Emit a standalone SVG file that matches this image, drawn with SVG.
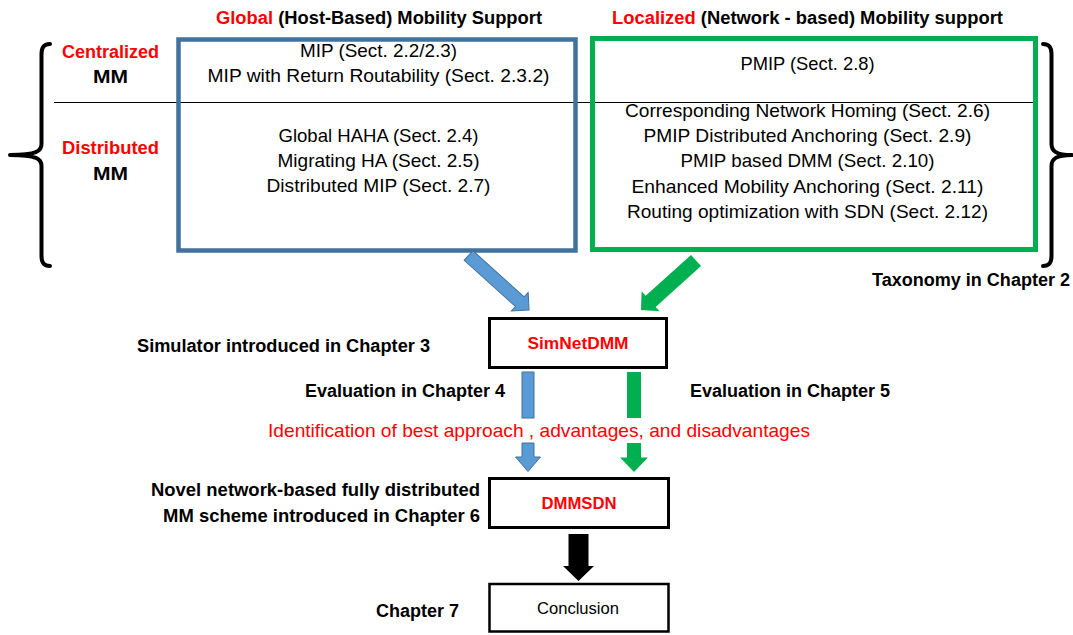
<svg xmlns="http://www.w3.org/2000/svg" width="1073" height="635" viewBox="0 0 1073 635">
  <style>
    text { font-family: "Liberation Sans", Arial, sans-serif; fill: #000; }
    .b { font-weight: bold; }
    .red { fill: #FF0000; }
    .h { font-size: 18px; }
    .item { font-size: 18.5px; text-anchor: middle; }
    .lbl { font-size: 17.5px; font-weight: bold; }
    .node { font-size: 16px; font-weight: bold; fill: #FF0000; text-anchor: middle; }
    .brace { fill: none; stroke: #000; stroke-width: 4; stroke-linecap: round; stroke-linejoin: round; }
    .box { fill: none; stroke: #000; stroke-width: 3; }
    .blue-arrow { fill: #5B9BD5; stroke: #41719C; stroke-width: 1; }
    .green-arrow { fill: #00B050; }
    .black-arrow { fill: #000; }
  </style>

  <rect width="1073" height="635" fill="#fff"/>

  <!-- divider between centralized and distributed rows -->
  <line id="row-divider" x1="54" y1="102.5" x2="1033" y2="102.5" stroke="#000" stroke-width="1"/>

  <!-- column headers -->
  <g id="header-global">
    <text class="h b" x="216" y="24" textLength="326" lengthAdjust="spacingAndGlyphs"><tspan class="red">Global</tspan> (Host-Based) Mobility Support</text>
  </g>
  <g id="header-localized">
    <text class="h b" x="612" y="24" textLength="391" lengthAdjust="spacingAndGlyphs"><tspan class="red">Localized</tspan> (Network - based) Mobility support</text>
  </g>

  <!-- row labels -->
  <g id="row-centralized">
    <text class="h b red" x="110.5" y="58" text-anchor="middle" textLength="97" lengthAdjust="spacingAndGlyphs">Centralized</text>
    <text class="h b" x="110.5" y="83" text-anchor="middle" textLength="35" lengthAdjust="spacingAndGlyphs">MM</text>
  </g>
  <g id="row-distributed">
    <text class="h b red" x="110.5" y="154" text-anchor="middle" textLength="97" lengthAdjust="spacingAndGlyphs">Distributed</text>
    <text class="h b" x="110.5" y="180" text-anchor="middle" textLength="35" lengthAdjust="spacingAndGlyphs">MM</text>
  </g>

  <!-- braces -->
  <g id="brace-left">
    <path class="brace" d="M50,44 C44,44 41.5,47 41.5,54 L41.5,144 C41.5,151 37,155 10,155 C37,155 41.5,159 41.5,166 L41.5,256 C41.5,263 44,266 50,266"/>
  </g>
  <g id="brace-right">
    <path class="brace" d="M1043,44 C1049,44 1051.5,47 1051.5,54 L1051.5,144 C1051.5,151 1056,155 1072,155 C1056,155 1051.5,159 1051.5,166 L1051.5,256 C1051.5,263 1049,266 1043,266"/>
  </g>

  <!-- host-based approaches -->
  <g id="global-box">
    <rect x="178.5" y="39.5" width="397" height="211" fill="none" stroke="#41719C" stroke-width="4.5"/>
    <text class="item" x="378.5" y="57" textLength="157" lengthAdjust="spacingAndGlyphs">MIP (Sect. 2.2/2.3)</text>
    <text class="item" x="378.5" y="82" textLength="342" lengthAdjust="spacingAndGlyphs">MIP with Return Routability (Sect. 2.3.2)</text>
    <text class="item" x="378.5" y="142" textLength="200" lengthAdjust="spacingAndGlyphs">Global HAHA (Sect. 2.4)</text>
    <text class="item" x="378.5" y="167" textLength="202" lengthAdjust="spacingAndGlyphs">Migrating HA (Sect. 2.5)</text>
    <text class="item" x="378.5" y="192" textLength="224" lengthAdjust="spacingAndGlyphs">Distributed MIP (Sect. 2.7)</text>
  </g>

  <!-- network-based approaches -->
  <g id="localized-box">
    <rect x="592.5" y="38.5" width="443" height="211" fill="none" stroke="#00B050" stroke-width="5"/>
    <text class="item" x="807.5" y="70" textLength="134" lengthAdjust="spacingAndGlyphs">PMIP (Sect. 2.8)</text>
    <text class="item" x="807.5" y="117" textLength="365" lengthAdjust="spacingAndGlyphs">Corresponding Network Homing (Sect. 2.6)</text>
    <text class="item" x="807.5" y="142" textLength="328" lengthAdjust="spacingAndGlyphs">PMIP Distributed Anchoring (Sect. 2.9)</text>
    <text class="item" x="807.5" y="167" textLength="254" lengthAdjust="spacingAndGlyphs">PMIP based DMM (Sect. 2.10)</text>
    <text class="item" x="807.5" y="193" textLength="352" lengthAdjust="spacingAndGlyphs">Enhanced Mobility Anchoring (Sect. 2.11)</text>
    <text class="item" x="807.5" y="218" textLength="361" lengthAdjust="spacingAndGlyphs">Routing optimization with SDN (Sect. 2.12)</text>
  </g>

  <g id="taxonomy-label">
    <text class="h b" x="872" y="286" textLength="198" lengthAdjust="spacingAndGlyphs">Taxonomy in Chapter 2</text>
  </g>

  <!-- simulator -->
  <g id="simnetdmm">
    <rect class="box" x="489.5" y="318.5" width="177" height="49"/>
    <text class="node" x="578" y="349" textLength="101" lengthAdjust="spacingAndGlyphs">SimNetDMM</text>
    <text class="lbl" x="137" y="352" textLength="293" lengthAdjust="spacingAndGlyphs">Simulator introduced in Chapter 3</text>
  </g>

  <g id="evaluation-labels">
    <text class="lbl" x="305" y="397" textLength="200" lengthAdjust="spacingAndGlyphs">Evaluation in Chapter 4</text>
    <text class="lbl" x="690" y="397" textLength="200" lengthAdjust="spacingAndGlyphs">Evaluation in Chapter 5</text>
    <text class="red" x="268" y="437" font-size="18.5" textLength="542" lengthAdjust="spacingAndGlyphs">Identification of best approach , advantages, and disadvantages</text>
  </g>

  <!-- proposed scheme -->
  <g id="dmmsdn">
    <rect class="box" x="489.5" y="478.5" width="179" height="49"/>
    <text class="node" x="579" y="509" textLength="75" lengthAdjust="spacingAndGlyphs">DMMSDN</text>
    <text class="lbl" x="480" y="496" text-anchor="end" textLength="329" lengthAdjust="spacingAndGlyphs">Novel network-based fully distributed</text>
    <text class="lbl" x="480" y="522" text-anchor="end" textLength="317" lengthAdjust="spacingAndGlyphs">MM scheme introduced in Chapter 6</text>
  </g>

  <g id="conclusion">
    <rect x="489.5" y="584" width="179" height="47.5" fill="none" stroke="#000" stroke-width="2.5"/>
    <text x="578" y="614" font-size="16.5" text-anchor="middle" textLength="82" lengthAdjust="spacingAndGlyphs">Conclusion</text>
    <text class="lbl" x="376" y="617" textLength="83" lengthAdjust="spacingAndGlyphs">Chapter 7</text>
  </g>

  <!-- block arrows -->
  <g id="connectors">
    <!-- diagonal arrows into the simulator -->
    <polygon class="blue-arrow" transform="translate(468.5,255.5) rotate(42)" points="0,-6.5 69,-6.5 69,-12.5 81.5,0 69,12.5 69,6.5 0,6.5"/>
    <polygon class="green-arrow" transform="translate(696,260.5) rotate(138)" points="0,-7.5 61,-7.5 61,-13.5 74,0 61,13.5 61,7.5 0,7.5"/>
    <!-- evaluation arrows, interrupted by the label -->
    <rect class="blue-arrow" x="522" y="372" width="12" height="46"/>
    <polygon class="blue-arrow" points="522,443 534,443 534,457 540.5,457 528,471.5 515.5,457 522,457"/>
    <rect class="green-arrow" x="627" y="372" width="14" height="46"/>
    <polygon class="green-arrow" points="627,443 641,443 641,457.5 648,457.5 634,472 620,457.5 627,457.5"/>
    <!-- scheme to conclusion -->
    <polygon class="black-arrow" points="568.5,534 588.5,534 588.5,566 594,566 578.5,581 563,566 568.5,566"/>
  </g>
</svg>
